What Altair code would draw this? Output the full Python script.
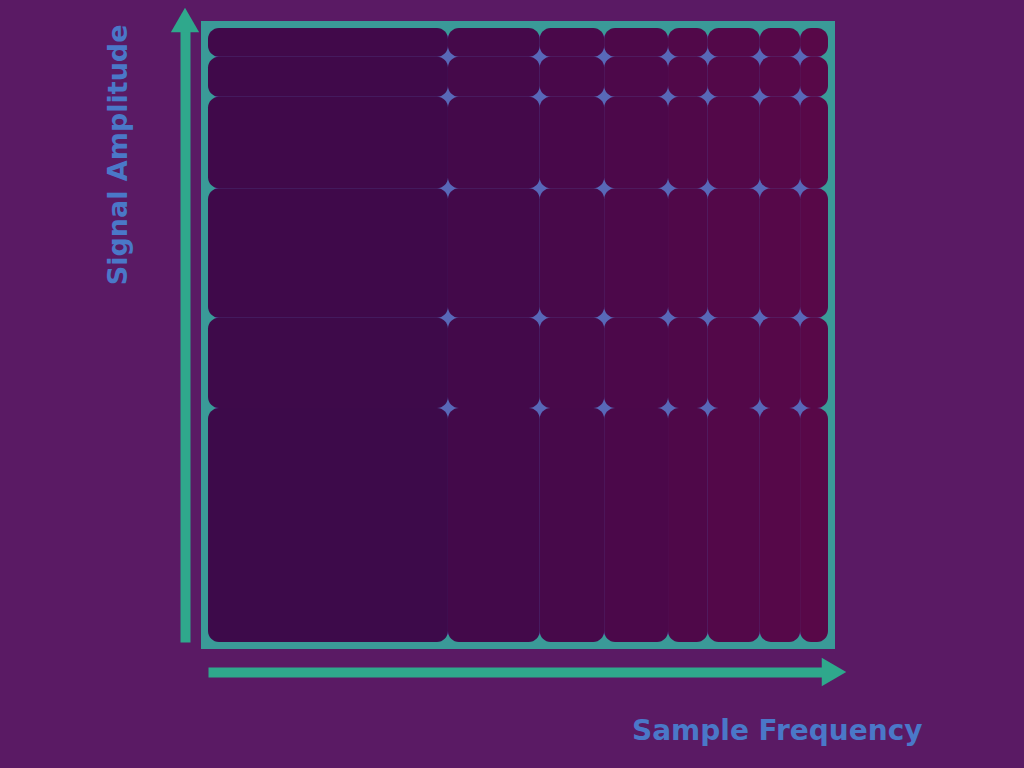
import altair as alt
import pandas as pd

# bin edges (data units) of the heat-map cells
x_edges = [0, 38.7, 53.5, 63.9, 74.2, 80.6, 89.0, 95.5, 100]
y_edges = [0, 38.1, 52.8, 73.9, 88.8, 95.3, 100]

# cell values, rows listed from bottom to top, 8 columns each
row_values = [
    [8, 20, 31, 41, 51, 60, 68, 74],
    [9, 21, 32, 42, 52, 61, 69, 75],
    [11, 22, 33, 43, 53, 61, 69, 75],
    [13, 24, 34, 44, 54, 62, 70, 75],
    [15, 26, 36, 45, 55, 62, 70, 75],
    [16, 27, 37, 46, 55, 62, 70, 75],
]

x_title = "Sample Frequency"
y_title = "Signal Amplitude"

rows = []
for r, vals in enumerate(row_values):
    for c, v in enumerate(vals):
        rows.append({"x0": x_edges[c], "x1": x_edges[c + 1],
                     "y0": y_edges[r], "y1": y_edges[r + 1], "v": v})
df = pd.DataFrame(rows)

TEAL = "#2fa88c"
TEXT = "#4a78c8"

xscale = alt.Scale(domain=[0, 100], nice=False, zero=False)
yscale = alt.Scale(domain=[0, 100], nice=False, zero=False)

rects = alt.Chart(df).mark_rect(cornerRadius=11).encode(
    x=alt.X("x0:Q", scale=xscale, axis=alt.Axis(
        title=x_title, domain=True, domainColor=TEAL, domainWidth=10,
        ticks=False, labels=False, grid=False, offset=30,
        titleFont="DejaVu Sans", titleFontSize=28, titleFontWeight="bold",
        titleColor=TEXT, titleX=714, titleY=59, titleAlign="right",
        titleBaseline="middle")),
    x2="x1:Q",
    y=alt.Y("y0:Q", scale=yscale, axis=alt.Axis(
        title=y_title, domain=True, domainColor=TEAL, domainWidth=10,
        ticks=False, labels=False, grid=False, offset=23,
        titleFont="DejaVu Sans", titleFontSize=27, titleFontWeight="bold",
        titleColor=TEXT, titleAngle=270, titleX=-67, titleY=-4,
        titleAlign="right", titleBaseline="middle")),
    y2="y1:Q",
    color=alt.Color("v:Q", legend=None,
                    scale=alt.Scale(domain=[0, 80], range=["#3a0a4a", "#5a0848"])),
)

arrow_df = pd.DataFrame({"a": [0]})
arrow_up = alt.Chart(arrow_df).mark_point(
    shape="triangle-up", filled=True, size=800, color=TEAL, opacity=1
).encode(x=alt.value(-23), y=alt.value(-8))
arrow_right = alt.Chart(arrow_df).mark_point(
    shape="triangle-right", filled=True, size=800, color=TEAL, opacity=1
).encode(x=alt.value(626), y=alt.value(644))

chart = alt.layer(rects, arrow_up, arrow_right).properties(
    width=620, height=614, background="#5a1a64",
    padding={"left": 208, "top": 28, "right": 196, "bottom": 126},
    autosize=alt.AutoSizeParams(type="none"),
).configure_view(fill="#5868b8", stroke="#3a9a98", strokeWidth=14)

chart.save("out.html", embed_options={"renderer": "svg", "actions": False})
